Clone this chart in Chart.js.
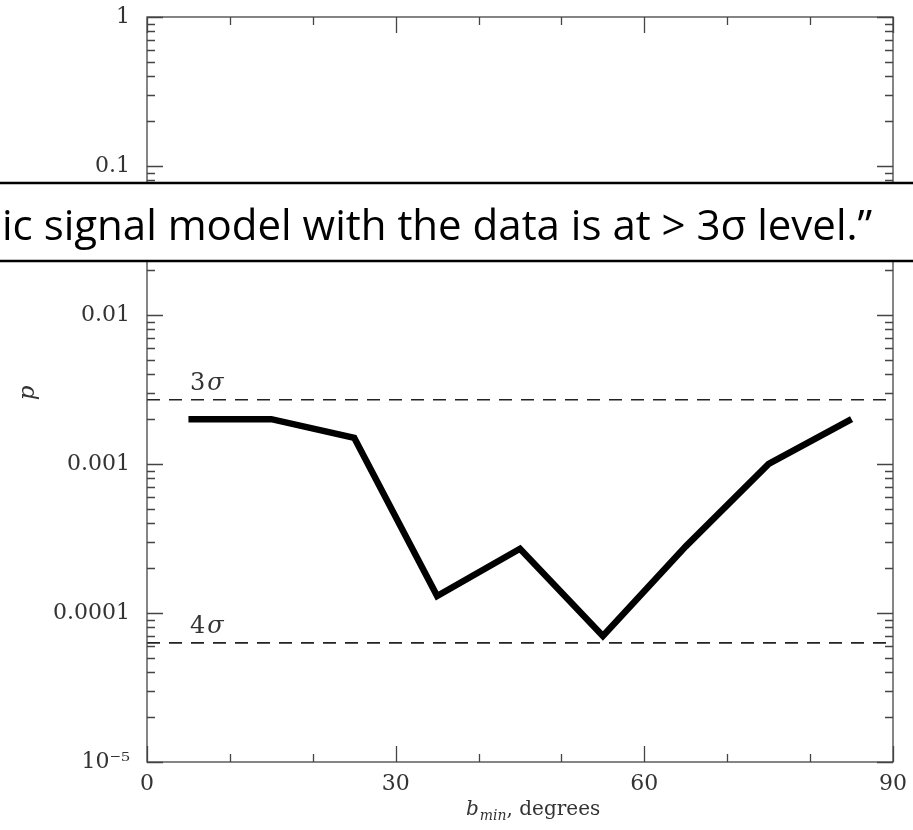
<!DOCTYPE html>
<html>
<head>
<meta charset="utf-8">
<script src="https://cdn.jsdelivr.net/npm/chart.js@4.4.1/dist/chart.umd.min.js"></script>
<style>
  body { margin: 0; background: #fff; }
  #wrap { width: 913px; height: 830px; position: relative; }
</style>
</head>
<body>
<div id="wrap"><canvas id="pChart"></canvas></div>
<script>
// minimum galactic latitude cut (degrees) and the resulting p-value
const bMin = [5, 15, 25, 35, 45, 55, 65, 75, 85];
const pValue = [0.002, 0.002, 0.0015, 0.00013, 0.00027, 0.00007, 0.00028, 0.001, 0.002];

// reference significance levels
const sigmaP = [0.0027, 0.000063];
const sigmaNames = ['3', '4'];

const xTickValues = [0, 30, 60, 90];
const xMinorValues = [10, 20, 40, 50, 70, 80];
const yTickValues = [1e-5, 1e-4, 1e-3, 0.01, 0.1, 1];
const yTickLabels = ['10\u207B\u2075', '0.0001', '0.001', '0.01', '0.1', '1'];

const quoteText = 'ic signal model with the data is at > 3\u03C3 level.\u201D';

const serif = '"DejaVu Serif", serif';
const axisColor = '#444';

const framePlugin = {
  id: 'frame',
  afterDatasetsDraw(chart) {
    const ctx = chart.ctx;
    const a = chart.chartArea;
    const xs = chart.scales.x, ys = chart.scales.y;
    ctx.save();
    ctx.strokeStyle = axisColor;
    ctx.lineWidth = 1.3;
    ctx.strokeRect(a.left, a.top, a.right - a.left, a.bottom - a.top);

    // inward ticks on all four sides
    ctx.beginPath();
    const vTick = (v, len) => {
      const px = Math.round(xs.getPixelForValue(v)) + 0.5;
      ctx.moveTo(px, a.bottom); ctx.lineTo(px, a.bottom - len);
      ctx.moveTo(px, a.top); ctx.lineTo(px, a.top + len);
    };
    xTickValues.forEach(v => vTick(v, 16));
    xMinorValues.forEach(v => vTick(v, 8));
    const hTick = (v, len) => {
      const py = Math.round(ys.getPixelForValue(v)) + 0.5;
      ctx.moveTo(a.left, py); ctx.lineTo(a.left + len, py);
      ctx.moveTo(a.right, py); ctx.lineTo(a.right - len, py);
    };
    for (let d = -5; d <= 0; d++) {
      hTick(Math.pow(10, d), 16);
      if (d < 0) {
        for (let m = 2; m <= 9; m++) hTick(m * Math.pow(10, d), 8);
      }
    }
    ctx.stroke();

    // sigma labels sit just above their dashed lines
    ctx.fillStyle = '#333';
    ctx.textBaseline = 'alphabetic';
    sigmaP.forEach((p, i) => {
      const x = xs.getPixelForValue(5.2);
      const y = ys.getPixelForValue(p) - 10;
      ctx.font = '24px ' + serif;
      ctx.fillText(sigmaNames[i], x, y);
      const w = ctx.measureText(sigmaNames[i]).width;
      ctx.font = 'italic 24px ' + serif;
      ctx.fillText('\u03C3', x + w + 2, y);
    });

    // y title
    ctx.save();
    ctx.translate(34, 393);
    ctx.rotate(-Math.PI / 2);
    ctx.font = 'italic 23px ' + serif;
    ctx.textAlign = 'center';
    ctx.fillText('p', 0, 0);
    ctx.restore();

    // x title: b_min, degrees
    let tx = 466;
    const base = 815;
    ctx.font = 'italic 20px ' + serif;
    ctx.fillText('b', tx, base);
    tx += ctx.measureText('b').width + 1;
    ctx.font = 'italic 14px ' + serif;
    ctx.fillText('min', tx, base + 5);
    tx += ctx.measureText('min').width;
    ctx.font = '20px ' + serif;
    ctx.fillText(', degrees', tx, base);
    ctx.restore();
  },
  afterDraw(chart) {
    // quotation strip laid across the figure
    const ctx = chart.ctx;
    const w = chart.width;
    ctx.save();
    ctx.fillStyle = '#fff';
    ctx.fillRect(0, 183, w, 78);
    ctx.strokeStyle = '#000';
    ctx.lineWidth = 2.5;
    ctx.beginPath();
    ctx.moveTo(0, 183); ctx.lineTo(w, 183);
    ctx.moveTo(0, 261); ctx.lineTo(w, 261);
    ctx.stroke();
    ctx.fillStyle = '#000';
    ctx.font = '42px "Open Sans", sans-serif';
    ctx.textBaseline = 'alphabetic';
    ctx.fillText(quoteText, 2, 240, 871);
    ctx.restore();
  }
};

const sigmaSets = sigmaP.map(p => ({
  data: [{ x: 0, y: p }, { x: 90, y: p }],
  borderColor: '#222',
  borderWidth: 1.6,
  borderDash: [13, 9],
  pointRadius: 0
}));

new Chart(document.getElementById('pChart'), {
  type: 'line',
  data: {
    datasets: [{
      data: bMin.map((b, i) => ({ x: b, y: pValue[i] })),
      borderColor: '#000',
      borderWidth: 6.5,
      borderJoinStyle: 'miter',
      borderCapStyle: 'butt',
      pointRadius: 0,
      tension: 0
    }].concat(sigmaSets)
  },
  options: {
    responsive: true,
    maintainAspectRatio: false,
    animation: false,
    layout: { autoPadding: false, padding: { top: 17, right: 20, left: 0, bottom: 0 } },
    plugins: { legend: { display: false }, tooltip: { enabled: false } },
    scales: {
      x: {
        type: 'linear',
        min: 0,
        max: 90,
        grid: { display: false, drawTicks: false },
        border: { display: false },
        afterFit: s => {
          s.height = 68;
          s.paddingLeft = 0;
          s.paddingRight = 0;
        },
        afterBuildTicks: s => { s.ticks = xTickValues.map(v => ({ value: v })); },
        ticks: {
          padding: 9,
          autoSkip: false,
          maxRotation: 0,
          color: '#333',
          font: { family: serif, size: 22 }
        }
      },
      y: {
        type: 'logarithmic',
        min: 1e-5,
        max: 1,
        grid: { display: false, drawTicks: false },
        border: { display: false },
        afterFit: s => {
          s.width = 147;
          s.paddingTop = 0;
          s.paddingBottom = 0;
        },
        afterBuildTicks: s => { s.ticks = yTickValues.map(v => ({ value: v })); },
        ticks: {
          padding: 17,
          autoSkip: false,
          color: '#333',
          font: { family: serif, size: 22 },
          callback: (v, i) => yTickLabels[i]
        }
      }
    }
  },
  plugins: [framePlugin]
});
</script>
</body>
</html>
